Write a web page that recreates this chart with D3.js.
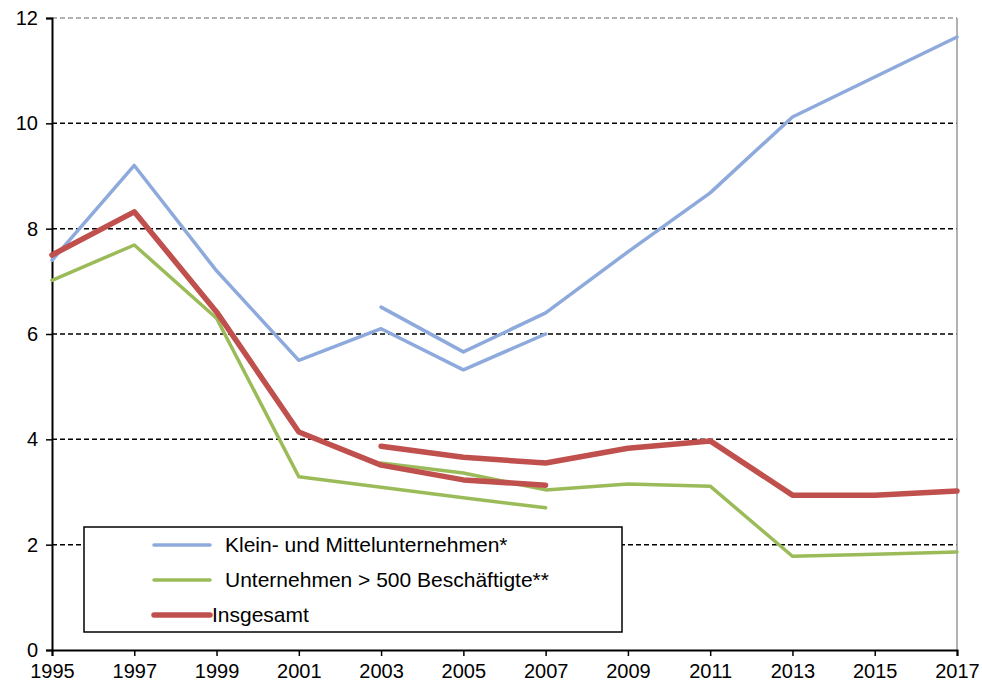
<!DOCTYPE html>
<html>
<head>
<meta charset="utf-8">
<script src="https://cdn.jsdelivr.net/npm/d3@7"></script>
<style>
  body { margin: 0; background: #fff; }
  text { font-family: "Liberation Sans", Arial, sans-serif; }
</style>
</head>
<body>
<div id="chart"></div>
<script>
var years = [1995, 1997, 1999, 2001, 2003, 2005, 2007, 2009, 2011, 2013, 2015, 2017];
var yTicks = [0, 2, 4, 6, 8, 10, 12];

// two segments per series (break in 2003-2007)
var kmuOld   = [7.4, 9.2, 7.2, 5.5, 6.1, 5.32, 6.0, null, null, null, null, null];
var kmuNew   = [null, null, null, null, 6.51, 5.66, 6.4, 7.56, 8.68, 10.12, 10.88, 11.64];
var grossOld = [7.02, 7.69, 6.3, 3.29, 3.09, 2.89, 2.7, null, null, null, null, null];
var grossNew = [null, null, null, null, 3.55, 3.36, 3.04, 3.15, 3.11, 1.78, 1.82, 1.86];
var totalOld = [7.5, 8.32, 6.42, 4.14, 3.51, 3.23, 3.13, null, null, null, null, null];
var totalNew = [null, null, null, null, 3.87, 3.66, 3.55, 3.83, 3.97, 2.94, 2.94, 3.02];

var seriesNames = ["Klein- und Mittelunternehmen*", "Unternehmen > 500 Beschäftigte**", "Insgesamt"];
var colors = ["#8eaadc", "#9bbb59", "#c0504d"];

var margin = { top: 18, right: 25, bottom: 36, left: 52 };
var width = 982 - margin.left - margin.right;
var height = 686 - margin.top - margin.bottom;

var svg = d3.select("#chart")
    .append("svg")
    .attr("width", 982)
    .attr("height", 686)
    .append("g")
    .attr("transform", `translate(${margin.left}, ${margin.top})`);

var x = d3.scaleLinear()
    .domain([1995, 2017])
    .range([0, width]);

var y = d3.scaleLinear()
    .domain([0, 12])
    .range([height, 0]);

// grid lines
svg.append("g")
    .selectAll("line")
    .data(yTicks.filter(d => d > 0))
    .enter()
    .append("line")
    .attr("x1", 0)
    .attr("x2", width)
    .attr("y1", d => y(d))
    .attr("y2", d => y(d))
    .style("stroke", d => d === 12 ? "#999" : "#000")
    .style("stroke-width", 1.5)
    .style("stroke-dasharray", "5,3");

// right border
svg.append("line")
    .attr("x1", width).attr("x2", width)
    .attr("y1", 0).attr("y2", height)
    .style("stroke", "#999")
    .style("stroke-width", 1.5);

// Y axis
var yAxis = svg.append("g")
    .call(d3.axisLeft(y).tickValues(yTicks).tickSize(6).tickPadding(8));
yAxis.select(".domain").style("stroke-width", 2);
yAxis.selectAll(".tick line").style("stroke-width", 1.5);
yAxis.selectAll("text").style("font-size", "20px").style("fill", "#000");

// X axis
var xAxis = svg.append("g")
    .attr("transform", `translate(0, ${height})`)
    .call(d3.axisBottom(x).tickValues(years).tickFormat(d3.format("d")).tickSize(6).tickPadding(8));
xAxis.select(".domain").style("stroke-width", 2);
xAxis.selectAll(".tick line").style("stroke-width", 1.5);
xAxis.selectAll("text").style("font-size", "20px").style("fill", "#000");

var line = d3.line()
    .defined(d => d != null)
    .x((d, i) => x(years[i]))
    .y(d => y(d));

var lines = [
    { vals: kmuOld, c: 0, w: 3.5 },
    { vals: kmuNew, c: 0, w: 3.5 },
    { vals: grossOld, c: 1, w: 3.5 },
    { vals: grossNew, c: 1, w: 3.5 },
    { vals: totalOld, c: 2, w: 5.5 },
    { vals: totalNew, c: 2, w: 5.5 }
];

svg.append("g")
    .selectAll("path")
    .data(lines)
    .enter()
    .append("path")
    .attr("d", d => line(d.vals))
    .style("fill", "none")
    .style("stroke", d => colors[d.c])
    .style("stroke-width", d => d.w)
    .style("stroke-linejoin", "round")
    .style("stroke-linecap", "round");

// legend
var legend = svg.append("g")
    .attr("transform", `translate(${84 - margin.left}, ${527 - margin.top})`);

legend.append("rect")
    .attr("width", 538)
    .attr("height", 105)
    .style("fill", "#fff")
    .style("stroke", "#000")
    .style("stroke-width", 1.5);

var legendY = [18, 53, 88];
var legendW = [3.5, 3.5, 5.5];
var textX = [141, 141, 128];

legend.selectAll(".item")
    .data(seriesNames)
    .enter()
    .append("g")
    .attr("class", "item")
    .each(function (d, i) {
        var g = d3.select(this);
        g.append("line")
            .attr("x1", 70).attr("x2", 126)
            .attr("y1", legendY[i]).attr("y2", legendY[i])
            .style("stroke", colors[i])
            .style("stroke-width", legendW[i])
            .style("stroke-linecap", "round");
        g.append("text")
            .attr("x", textX[i])
            .attr("y", legendY[i])
            .attr("dy", "0.35em")
            .style("font-size", "21px")
            .text(d);
    });
</script>
</body>
</html>
